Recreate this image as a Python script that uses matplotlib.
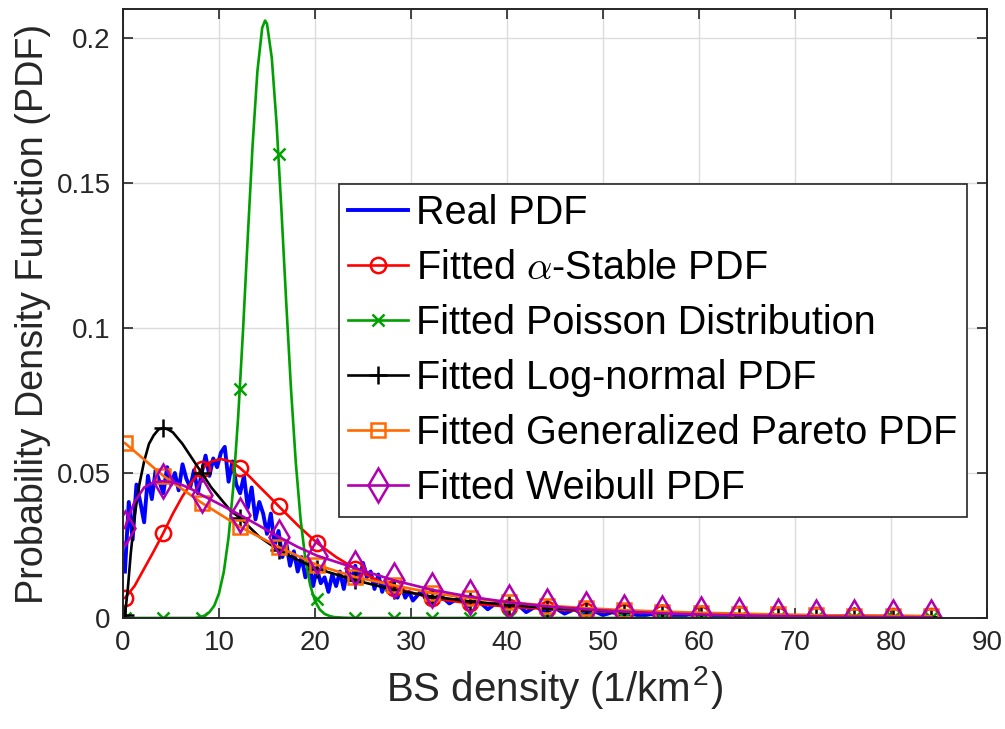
import matplotlib
matplotlib.use("Agg")
import matplotlib.pyplot as plt
from matplotlib.lines import Line2D
import numpy as np

plt.rcParams['font.family'] = ['Liberation Sans', 'DejaVu Sans']
plt.rcParams['mathtext.fontset'] = 'cm'

# ---- data ----
# marker positions shared by all fitted curves
mark_x = [0.2, 4.2, 8.2, 12.2, 16.2, 20.2, 24.2, 28.2, 32.2, 36.2, 40.2,
          44.2, 48.2, 52.2, 56.2, 60.2, 64.2, 68.2, 72.2, 76.2, 80.2, 84.2]

# real (empirical) PDF
real_x = [0.2, 0.6, 1.0, 1.4, 1.8, 2.2, 2.6, 3.0, 3.4, 3.8, 4.2, 4.6, 5.0, 5.4,
          5.8, 6.2, 6.6, 7.0, 7.4, 7.8, 8.2, 8.6, 9.0, 9.4, 9.8, 10.2, 10.6,
          11.0, 11.4, 11.8, 12.2, 12.6, 13.0, 13.4, 13.8, 14.2, 14.6, 15.0,
          15.4, 15.8, 16.2, 16.6, 17.0, 17.4, 17.8, 18.2, 18.6, 19.0, 19.4,
          19.8, 20.2, 20.6, 21.0, 21.4, 21.8, 22.2, 22.6, 23.0, 23.4, 23.8,
          24.2, 24.6, 25.0, 25.4, 25.8, 26.2, 26.6, 27.0, 27.4, 27.8, 28.2,
          28.6, 29.0, 29.4, 29.8, 30.2,
          31, 32, 33, 34, 35, 36, 37, 38, 39, 40, 41, 42, 43, 44, 45, 46, 47,
          48, 49, 50, 51, 52, 53, 54, 55, 56, 57, 58, 59, 60, 61, 62, 63, 64,
          65, 66, 67, 68, 69, 70, 71, 72, 73, 74, 75, 76, 77, 78, 79, 80, 81,
          82, 83, 84, 85]
real_y = [0.016, 0.040, 0.027, 0.046, 0.040, 0.033, 0.049, 0.041, 0.051, 0.047,
          0.043, 0.052, 0.046, 0.050, 0.044, 0.053, 0.048, 0.045, 0.051, 0.043,
          0.050, 0.056, 0.049, 0.055, 0.052, 0.057, 0.059, 0.047, 0.054, 0.046,
          0.043, 0.049, 0.038, 0.045, 0.034, 0.040, 0.036, 0.029, 0.036, 0.025,
          0.030, 0.021, 0.026, 0.018, 0.023, 0.016, 0.021, 0.014, 0.019, 0.011,
          0.017, 0.012, 0.014, 0.009, 0.015, 0.011, 0.016, 0.010, 0.017, 0.013,
          0.018, 0.012, 0.019, 0.014, 0.016, 0.010, 0.015, 0.009, 0.013, 0.010,
          0.012, 0.007, 0.011, 0.007, 0.009, 0.006,
          0.009, 0.005, 0.008, 0.005, 0.007, 0.004, 0.006, 0.003, 0.0055, 0.003,
          0.005, 0.002, 0.004, 0.002, 0.0035, 0.0015, 0.003, 0.0012, 0.0025,
          0.001, 0.002, 0.0008, 0.0015, 0.0006, 0.0014, 0.0005, 0.0012, 0.0004,
          0.0013, 0.0004, 0.0011, 0.0003, 0.001, 0.0003, 0.0011, 0.0002, 0.0008,
          0.0002, 0.0006, 0.0001, 0.0005, 0.0001, 0.0004, 0.0, 0.0003, 0.0,
          0.0003, 0.0, 0.0002, 0.0, 0.0001, 0.0, 0.0, 0.0, 0.0]

# fitted alpha-stable
stable_x = [0.2, 1.2, 2.2, 3.2, 4.2, 5.2, 6.2, 7.2, 8.2, 9.2, 10.2, 11.2, 12.2,
            13.2, 14.2, 15.2, 16.2, 18.2, 20.2, 22.2, 24.2, 26.2, 28.2, 32.2,
            36.2, 40.2, 44.2, 48.2, 52.2, 56.2, 60.2, 64.2, 68.2, 72.2, 76.2,
            80.2, 84.2]
stable_y = [0.0069, 0.011, 0.017, 0.023, 0.0293, 0.036, 0.042, 0.047, 0.0514,
            0.054, 0.0548, 0.054, 0.0517, 0.0487, 0.0453, 0.042, 0.0386, 0.032,
            0.0259, 0.021, 0.017, 0.0135, 0.0105, 0.0068, 0.005, 0.0039, 0.0031,
            0.0025, 0.002, 0.0017, 0.0014, 0.0012, 0.001, 0.0009, 0.0008,
            0.0007, 0.0006]
stable_m = [0.0069, 0.0293, 0.0514, 0.0517, 0.0386, 0.0259, 0.017, 0.0105,
            0.0068, 0.005, 0.0039, 0.0031, 0.0025, 0.002, 0.0017, 0.0014,
            0.0012, 0.001, 0.0009, 0.0008, 0.0007, 0.0006]

# fitted Poisson
poisson_x = [0, 7.5, 8.0, 8.5, 9.0, 9.5, 10.0, 10.5, 11.0, 11.5, 12.0, 12.5,
             13.0, 13.5, 14.0, 14.5, 14.8, 15.0, 15.5, 16.0, 16.5, 17.0, 17.5,
             18.0, 18.5, 19.0, 19.5, 20.0, 20.5, 21.0, 21.5, 22.0, 23.0, 24.0,
             85]
poisson_y = [0, 0, 0.0003, 0.0008, 0.002, 0.0042, 0.0085, 0.0159, 0.0279,
             0.0456, 0.0695, 0.099, 0.1315, 0.163, 0.1885, 0.2035, 0.206,
             0.2049, 0.1931, 0.1704, 0.1409, 0.109, 0.079, 0.0536, 0.034,
             0.0202, 0.0113, 0.0059, 0.0029, 0.0014, 0.0007, 0.0003, 0.0001,
             0, 0]
poisson_m = [0, 0, 0, 0.079, 0.160, 0.0065, 0, 0, 0, 0, 0, 0, 0, 0, 0, 0,
             0, 0, 0, 0, 0, 0]

# fitted log-normal
lognorm_x = [0.2, 0.5, 0.8, 1.2, 1.7, 2.2, 2.7, 3.2, 3.7, 4.2, 4.7, 5.2, 6.2,
             7.2, 8.2, 9.2, 10.2, 11.2, 12.2, 14.2, 16.2, 18.2, 20.2, 24.2,
             28.2, 32.2, 36.2, 40.2, 44.2, 48.2, 52.2, 56.2, 60.2, 64.2, 68.2,
             72.2, 76.2, 80.2, 84.2]
lognorm_y = [0.001, 0.010, 0.022, 0.035, 0.046, 0.054, 0.060, 0.063, 0.065,
             0.0655, 0.065, 0.064, 0.060, 0.055, 0.050, 0.045, 0.041, 0.037,
             0.0345, 0.028, 0.0234, 0.020, 0.017, 0.013, 0.0097, 0.0074,
             0.0057, 0.0045, 0.0035, 0.0028, 0.0022, 0.0018, 0.0014, 0.0011,
             0.0009, 0.0007, 0.0006, 0.0005, 0.0004]
lognorm_m = [0.001, 0.0655, 0.050, 0.0345, 0.0234, 0.017, 0.013, 0.0097,
             0.0074, 0.0057, 0.0045, 0.0035, 0.0028, 0.0022, 0.0018, 0.0014,
             0.0011, 0.0009, 0.0007, 0.0006, 0.0005, 0.0004]

# fitted generalized Pareto (straight segments between markers)
pareto_m = [0.0603, 0.049, 0.0397, 0.0314, 0.0245, 0.0183, 0.0141, 0.0113,
            0.0086, 0.0068, 0.0054, 0.0043, 0.0034, 0.0027, 0.0022, 0.0018,
            0.0015, 0.0012, 0.001, 0.0008, 0.0007, 0.0006]

# fitted Weibull
weibull_x = [0.2, 0.7, 1.2, 2.2, 3.2, 4.2, 5.2, 6.2, 7.2, 8.2, 10.2, 12.2,
             14.2, 16.2, 18.2, 20.2, 24.2, 28.2, 32.2, 36.2, 40.2, 44.2, 48.2,
             52.2, 56.2, 60.2, 64.2, 68.2, 72.2, 76.2, 80.2, 84.2]
weibull_y = [0.031, 0.036, 0.040, 0.045, 0.0468, 0.0472, 0.0468, 0.0458,
             0.0443, 0.0424, 0.039, 0.0355, 0.0318, 0.028, 0.0245, 0.0215,
             0.0172, 0.013, 0.0097, 0.0073, 0.0054, 0.004, 0.003, 0.0022,
             0.0016, 0.0012, 0.0009, 0.0007, 0.0005, 0.0004, 0.0003, 0.0002]
weibull_m = [0.031, 0.0472, 0.0424, 0.0355, 0.028, 0.0215, 0.0172, 0.013,
             0.0097, 0.0073, 0.0054, 0.004, 0.003, 0.0022, 0.0016, 0.0012,
             0.0009, 0.0007, 0.0005, 0.0004, 0.0003, 0.0002]

labels = ['Real PDF', r'Fitted $\alpha$-Stable PDF', 'Fitted Poisson Distribution',
          'Fitted Log-normal PDF', 'Fitted Generalized Pareto PDF',
          'Fitted Weibull PDF']

c_blue, c_red, c_green = '#0000ff', '#ff0000', '#00a000'
c_black, c_orange, c_purple = '#000000', '#ff6a00', '#b000b0'

# ---- plot ----
fig = plt.figure(figsize=(10.05, 7.29), dpi=100)
ax = fig.add_axes([0.1224, 0.1523, 0.982 - 0.1224, 0.9877 - 0.1523])

lw = 1.9
mew = 1.8
ax.plot(real_x, real_y, color=c_blue, lw=2.8)

ax.plot(stable_x, stable_y, color=c_red, lw=lw)
ax.plot(mark_x, stable_m, ls='none', marker='o', ms=11, mfc='none',
        mec=c_red, mew=mew)

ax.plot(poisson_x, poisson_y, color=c_green, lw=lw)
ax.plot(mark_x, poisson_m, ls='none', marker='x', ms=8, mec=c_green, mew=mew)

ax.plot(lognorm_x, lognorm_y, color=c_black, lw=lw)
ax.plot(mark_x, lognorm_m, ls='none', marker='+', ms=13, mec=c_black, mew=mew)

ax.plot(mark_x, pareto_m, color=c_orange, lw=lw, marker='s', ms=9.5,
        mfc='none', mec=c_orange, mew=mew)

ax.plot(weibull_x, weibull_y, color=c_purple, lw=lw)
ax.plot(mark_x, weibull_m, ls='none', marker='d', ms=17, mfc='none',
        mec=c_purple, mew=mew)

ax.set_xlim(0, 90)
ax.set_ylim(0, 0.21)
ax.set_xticks(np.arange(0, 91, 10))
ax.set_yticks([0, 0.05, 0.1, 0.15, 0.2])
ax.set_yticklabels(['0', '0.05', '0.1', '0.15', '0.2'])
ax.grid(True, color='#dcdcdc', lw=1.0)
ax.set_axisbelow(True)
ax.tick_params(direction='in', length=7, width=1.2, labelsize=20,
               top=True, right=True, colors='#262626', pad=9)
for s in ax.spines.values():
    s.set_linewidth(1.4)
    s.set_color('#262626')

ax.set_xlabel(r'BS density (1/km$^{\mathregular{2}}$)', fontsize=29,
              color='#262626', labelpad=6)
ax.set_ylabel('Probability Density Function (PDF)', fontsize=27.2,
              color='#262626', labelpad=4)

handles = [
    Line2D([], [], color=c_blue, lw=2.8),
    Line2D([], [], color=c_red, lw=lw, marker='o', ms=11, mfc='none', mew=mew),
    Line2D([], [], color=c_green, lw=lw, marker='x', ms=8, mew=mew),
    Line2D([], [], color=c_black, lw=lw, marker='+', ms=13, mew=mew),
    Line2D([], [], color=c_orange, lw=lw, marker='s', ms=9.5, mfc='none', mew=mew),
    Line2D([], [], color=c_purple, lw=lw, marker='d', ms=17, mfc='none', mew=mew),
]
leg = ax.legend(handles, labels, loc='upper right',
                bbox_to_anchor=(0.977, 0.7126), fontsize=28.5, frameon=True,
                fancybox=False, edgecolor='#262626', framealpha=1,
                handlelength=1.5, handletextpad=0.2, labelspacing=0.43,
                borderpad=0.25, borderaxespad=0)
leg.get_frame().set_linewidth(1.2)

fig.savefig('out.png', dpi=100)
